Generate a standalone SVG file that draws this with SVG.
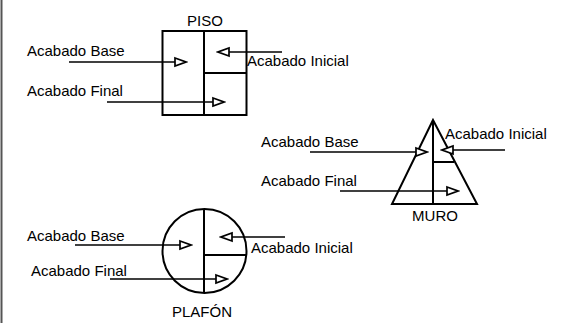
<svg xmlns="http://www.w3.org/2000/svg" width="562" height="323" viewBox="0 0 562 323">
<style>
text{font-family:"Liberation Sans",Arial,sans-serif;font-size:15px;fill:#000}
.shape{fill:none;stroke:#000;stroke-width:2}
.conn{fill:none;stroke:#000;stroke-width:1.7;marker-end:url(#arr)}
</style>
<defs>
<marker id="arr" markerUnits="userSpaceOnUse" markerWidth="14" markerHeight="12" refX="11" refY="5" orient="auto" viewBox="-1 -1 14 12">
<path d="M0,1 L11,5 L0,9 Z" fill="#fff" stroke="#000" stroke-width="1.7"/>
</marker>
</defs>
<rect width="562" height="323" fill="#fff"/>
<line x1="1.5" y1="0" x2="1.5" y2="323" stroke="#555" stroke-width="2"/>
<g id="piso">
<rect class="shape" x="162.5" y="31" width="84" height="84"/>
<line class="shape" x1="204" y1="31" x2="204" y2="115"/>
<line class="shape" x1="204" y1="73" x2="246.5" y2="73"/>
<text x="205" y="26" text-anchor="middle">PISO</text>
</g>
<g id="muro">
<polygon class="shape" points="433,120 392,204 477,204"/>
<line class="shape" x1="433" y1="120" x2="433" y2="204"/>
<line class="shape" x1="433" y1="162" x2="454" y2="162"/>
<text x="435" y="221" text-anchor="middle">MURO</text>
</g>
<g id="plafon">
<circle class="shape" cx="204.5" cy="251" r="42"/>
<line class="shape" x1="204" y1="209" x2="204" y2="293"/>
<line class="shape" x1="204" y1="255" x2="246" y2="255"/>
<text x="202" y="317" text-anchor="middle">PLAFÓN</text>
</g>
<g id="labels">
<text x="27" y="56">Acabado Base</text>
<text x="247" y="66">Acabado Inicial</text>
<text x="27" y="96">Acabado Final</text>
<text x="261" y="147">Acabado Base</text>
<text x="445" y="139">Acabado Inicial</text>
<text x="261" y="186">Acabado Final</text>
<text x="27" y="241">Acabado Base</text>
<text x="251" y="253">Acabado Inicial</text>
<text x="31" y="276">Acabado Final</text>
</g>
<g id="connectors">
<line class="conn" x1="69" y1="62" x2="186" y2="62"/>
<line class="conn" x1="282" y1="52" x2="218" y2="52"/>
<line class="conn" x1="107" y1="102" x2="224" y2="102"/>
<line class="conn" x1="310" y1="152" x2="427" y2="152"/>
<line class="conn" x1="505" y1="150" x2="442" y2="150"/>
<line class="conn" x1="340" y1="191" x2="458" y2="191"/>
<line class="conn" x1="75" y1="245" x2="191" y2="245"/>
<line class="conn" x1="285" y1="237" x2="221" y2="237"/>
<line class="conn" x1="110" y1="279" x2="227" y2="279"/>
</g>
</svg>
